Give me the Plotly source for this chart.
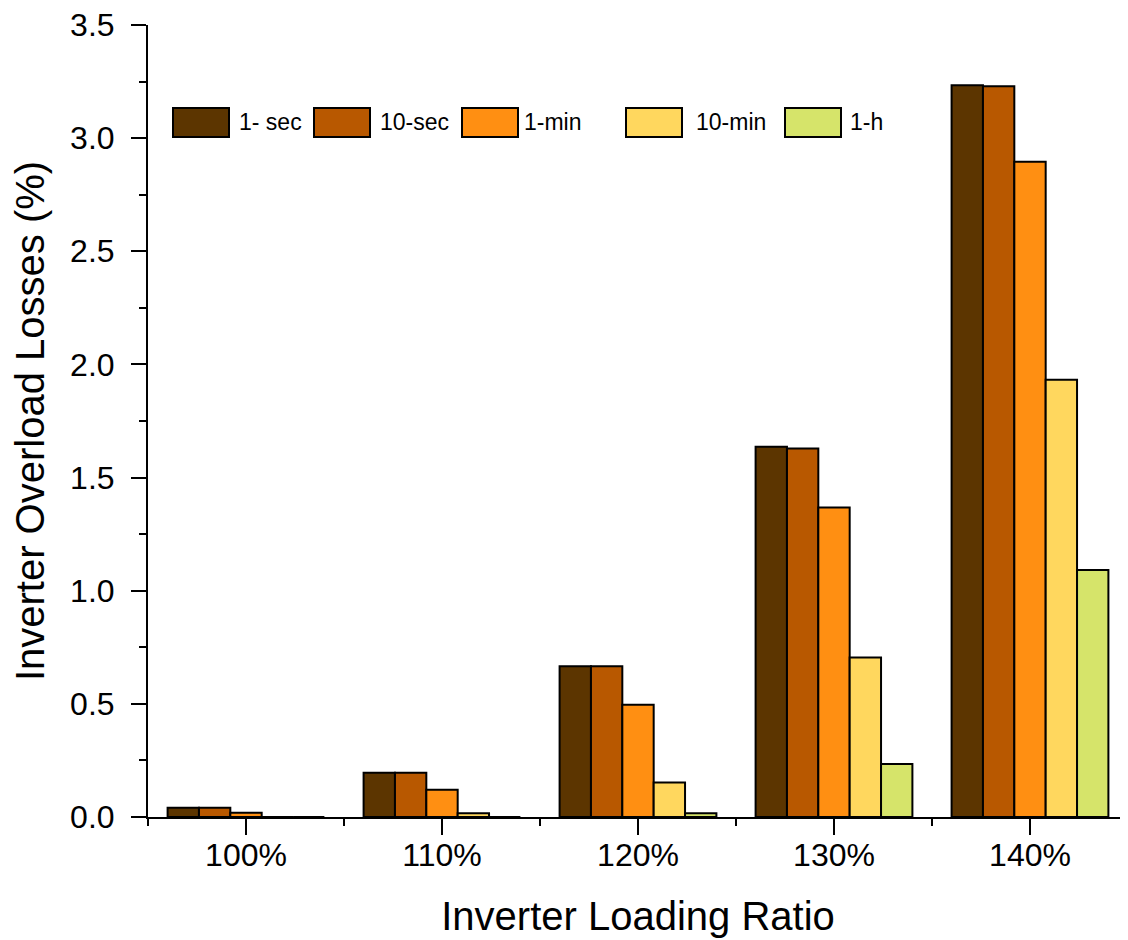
import plotly.graph_objects as go

# categories and series values (%)
categories = ['100%', '110%', '120%', '130%', '140%']
series_names = ['1- sec', '10-sec', '1-min', '10-min', '1-h']
sec_1 = [0.041, 0.195, 0.666, 1.636, 3.234]
sec_10 = [0.041, 0.195, 0.666, 1.629, 3.229]
min_1 = [0.019, 0.120, 0.496, 1.368, 2.896]
min_10 = [0.0, 0.017, 0.152, 0.705, 1.932]
hour_1 = [0.0, 0.0, 0.017, 0.234, 1.091]
y_ticks = [0.0, 0.5, 1.0, 1.5, 2.0, 2.5, 3.0, 3.5]

colors = ['#5C3500', '#B85800', '#FF8F12', '#FFD75E', '#D6E46A']
series = [sec_1, sec_10, min_1, min_10, hour_1]

# page body adds an 8px margin, so the figure is a bit smaller and shifted
OFF = 8
W, H = 1120, 932
L, R, T, B = 140, 0, 17, 123
pw, ph = W - L - R, H - T - B

x_pos = list(range(len(categories)))

fig = go.Figure()
for name, vals, col in zip(series_names, series, colors):
    fig.add_trace(go.Bar(
        x=x_pos, y=vals, name=name,
        marker=dict(color=col, line=dict(color='black', width=2)),
        showlegend=False,
    ))

# hand-made legend (big swatches like the original), screen pixel positions
sw_left = [173, 314, 462, 626, 785]
txt_left = [237, 378, 522, 694, 848]
sw_w, sw_top, sw_bot = 56, 108, 137
leg_mid = (sw_top + sw_bot) / 2


def px_x(p):
    return (p - OFF - L) / pw


def px_y(p):
    return (H - B - (p - OFF)) / ph


for name, col, sx, tx in zip(series_names, colors, sw_left, txt_left):
    fig.add_shape(type='rect', xref='paper', yref='paper',
                  x0=px_x(sx), x1=px_x(sx + sw_w), y0=px_y(sw_bot), y1=px_y(sw_top),
                  fillcolor=col, line=dict(color='black', width=2))
    fig.add_annotation(xref='paper', yref='paper', x=px_x(tx), y=px_y(leg_mid),
                       text=name, showarrow=False, xanchor='left', yanchor='middle',
                       font=dict(size=23, color='black'))

font_family = 'Liberation Sans, Arial, sans-serif'

fig.update_layout(
    width=W, height=H,
    margin=dict(l=L, r=R, t=T, b=B),
    plot_bgcolor='white', paper_bgcolor='white',
    barmode='group', bargap=0.2, bargroupgap=0,
    font=dict(family=font_family, color='black'),
    xaxis=dict(
        range=[-0.5, 4.5], tickvals=x_pos, ticktext=categories,
        showgrid=False, zeroline=False, showline=True, linecolor='black', linewidth=2,
        ticks='outside', ticklen=16, tickwidth=2, tickcolor='black',
        tickfont=dict(size=32), ticklabelstandoff=-7, ticklabeloverflow='allow',
        minor=dict(tickvals=[-0.5, 0.5, 1.5, 2.5, 3.5, 4.5], ticks='outside',
                   ticklen=7, tickwidth=2, tickcolor='black', showgrid=False),
        title=dict(text='Inverter Loading Ratio', font=dict(size=40), standoff=30),
    ),
    yaxis=dict(
        range=[0, 3.5], tickvals=y_ticks, tickformat='.1f',
        showgrid=False, zeroline=False, showline=True, linecolor='black', linewidth=2,
        ticks='outside', ticklen=15, tickwidth=2, tickcolor='black',
        tickfont=dict(size=32), ticklabelstandoff=10, ticklabeloverflow='allow',
        minor=dict(tickvals=[0.25, 0.75, 1.25, 1.75, 2.25, 2.75, 3.25], ticks='outside',
                   ticklen=7, tickwidth=2, tickcolor='black', showgrid=False),
        title=dict(text='Inverter Overload Losses (%)', font=dict(size=40), standoff=19),
    ),
)

fig.write_html('out.html')
